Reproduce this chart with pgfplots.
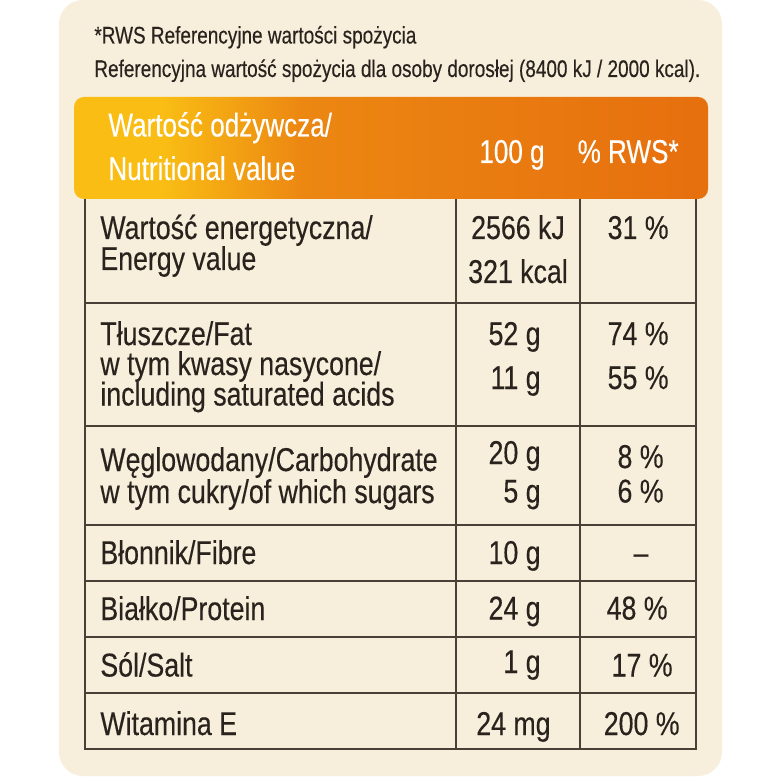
\documentclass[border=0pt]{standalone}
\usepackage{pgfplots}
\pgfplotsset{compat=1.18}
\usepackage{fontspec}
\setmainfont{Liberation Sans}[FakeStretch=0.79,FakeBold=0.3]
\newfontfamily\bodyfam{Liberation Sans}[FakeStretch=0.81,FakeBold=0.3]
\definecolor{cream}{HTML}{F7EEDC}
\definecolor{ink}{HTML}{2A231D}
\definecolor{rulec}{HTML}{4A4036}
\definecolor{yl}{HTML}{F9BD14}
\definecolor{orA}{HTML}{EC8712}
\definecolor{orB}{HTML}{E66F0E}
\pgfdeclarehorizontalshading{hdr}{100bp}{color(0bp)=(yl); color(32bp)=(yl); color(43bp)=(orA); color(75bp)=(orB); color(100bp)=(orB)}
\newcommand\bodyf{\bodyfam\fontsize{16.5}{17}\selectfont}
\newcommand\smallf{\fontsize{12}{13}\selectfont}
\newcommand\headf{\fontsize{16.5}{17}\selectfont}
\begin{document}
\begin{tikzpicture}
\begin{axis}[width=390pt,height=390pt,scale only axis,xmin=0,xmax=780,ymin=0,ymax=780,y dir=reverse,hide axis,clip=false]
\fill[white] (axis cs:0,0) rectangle (axis cs:780,780);
\fill[cream, rounded corners=12pt] (axis cs:59,0) rectangle (axis cs:722,776);
\shade[shading=hdr, rounded corners=5pt] (axis cs:74,97) rectangle (axis cs:708,199);
% table rules
\addplot[rulec, line width=1pt] coordinates {(85,199) (85,749) (696,749) (696,199)};
\addplot[rulec, line width=1pt] coordinates {(456,199) (456,749)};
\addplot[rulec, line width=1pt] coordinates {(580,199) (580,749)};
\addplot[rulec, line width=1pt] coordinates {(85,302.5) (696,302.5)};
\addplot[rulec, line width=1pt] coordinates {(85,425.5) (696,425.5)};
\addplot[rulec, line width=1pt] coordinates {(85,525) (696,525)};
\addplot[rulec, line width=1pt] coordinates {(85,581) (696,581)};
\addplot[rulec, line width=1pt] coordinates {(85,637) (696,637)};
\addplot[rulec, line width=1pt] coordinates {(85,693) (696,693)};
% top notes
\begin{scope}[every node/.style={inner sep=0pt, text=ink, font=\smallf}]
\node[anchor=base west] at (axis cs:94,43.5) {*RWS Referencyjne wartości spożycia};
\node[anchor=base west] at (axis cs:94,77) {Referencyjna wartość spożycia dla osoby dorosłej (8400 kJ / 2000 kcal).};
\end{scope}
% header
\begin{scope}[every node/.style={inner sep=0pt, text=white, font=\headf}]
\node[anchor=base west] at (axis cs:108,136.5) {Wartość odżywcza/};
\node[anchor=base west] at (axis cs:108,180) {Nutritional value};
\node[anchor=base east] at (axis cs:545,163) {100 g};
\node[anchor=base east] at (axis cs:679,163) {\% RWS*};
\end{scope}
% body
\begin{scope}[every node/.style={inner sep=0pt, text=ink, font=\bodyf}]
\node[anchor=base west] at (axis cs:100,239) {Wartość energetyczna/};
\node[anchor=base west] at (axis cs:100,270) {Energy value};
\node[anchor=base] at (axis cs:518,239) {2566 kJ};
\node[anchor=base] at (axis cs:518,283) {321 kcal};
\node[anchor=base east] at (axis cs:669,239) {31 \%};
\node[anchor=base west] at (axis cs:100,345) {Tłuszcze/Fat};
\node[anchor=base west] at (axis cs:100,375) {w tym kwasy nasycone/};
\node[anchor=base west] at (axis cs:100,405.5) {including saturated acids};
\node[anchor=base east] at (axis cs:541,345) {52 g};
\node[anchor=base east] at (axis cs:541,389) {11 g};
\node[anchor=base east] at (axis cs:669,345) {74 \%};
\node[anchor=base east] at (axis cs:669,389) {55 \%};
\node[anchor=base west] at (axis cs:100,471) {Węglowodany/Carbohydrate};
\node[anchor=base west] at (axis cs:100,503) {w tym cukry/of which sugars};
\node[anchor=base east] at (axis cs:541,464) {20 g};
\node[anchor=base east] at (axis cs:541,502.5) {5 g};
\node[anchor=base east] at (axis cs:664,468) {8 \%};
\node[anchor=base east] at (axis cs:664,502.5) {6 \%};
\node[anchor=base west] at (axis cs:100,564) {Błonnik/Fibre};
\node[anchor=base east] at (axis cs:541,564) {10 g};
\node[anchor=base] at (axis cs:641,564) {–};
\node[anchor=base west] at (axis cs:100,620) {Białko/Protein};
\node[anchor=base east] at (axis cs:541,619.5) {24 g};
\node[anchor=base east] at (axis cs:668,619.5) {48 \%};
\node[anchor=base west] at (axis cs:100,676.5) {Sól/Salt};
\node[anchor=base east] at (axis cs:541,673) {1 g};
\node[anchor=base east] at (axis cs:673,676.5) {17 \%};
\node[anchor=base west] at (axis cs:100,735) {Witamina E};
\node[anchor=base east] at (axis cs:551,735) {24 mg};
\node[anchor=base east] at (axis cs:680,735) {200 \%};
\end{scope}
\end{axis}
\end{tikzpicture}
\end{document}
